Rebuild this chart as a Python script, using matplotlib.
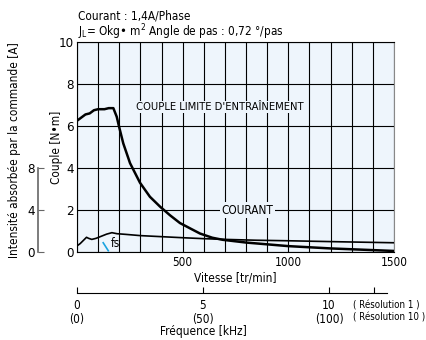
import matplotlib.pyplot as plt
import numpy as np

plt.rcParams['font.family'] = ['DejaVu Sans']
plt.rcParams['font.stretch'] = 'condensed'
plt.rcParams['font.size'] = 8.5

# couple limite d'entraînement [N·m] en fonction de la vitesse [tr/min]
vit_couple = [0, 20, 40, 60, 80, 100, 130, 150, 172, 188, 199, 219, 251, 298,
              345, 393, 440, 487, 540, 582, 640, 690, 800, 1000, 1200, 1400, 1500]
couple = [6.25, 6.4, 6.55, 6.6, 6.75, 6.8, 6.8, 6.85, 6.85, 6.44, 5.97, 5.17, 4.23,
          3.3, 2.63, 2.16, 1.75, 1.38, 1.1, 0.88, 0.68, 0.58, 0.45, 0.28, 0.17, 0.09, 0.05]

# courant absorbé [A]
vit_courant = [0, 15, 30, 45, 55, 70, 90, 110, 140, 165, 190, 230, 300, 400, 500,
               600, 700, 850, 1000, 1250, 1500]
courant = [0.58, 0.8, 1.1, 1.4, 1.3, 1.2, 1.3, 1.46, 1.7, 1.84, 1.74, 1.68, 1.56,
           1.46, 1.36, 1.27, 1.2, 1.12, 1.07, 0.97, 0.88]

freq_ticks = [0, 5, 10]
freq_labels = ['0\n(0)', '5\n(50)', '10\n(100)']

fond = '#eef5fc'
fig = plt.figure(figsize=(4.26, 3.40), dpi=100)
ax = fig.add_axes([77 / 426, 1 - 252 / 340, 317 / 426, 210 / 340])
ax.set_facecolor(fond)
ax.set_xlim(0, 1500)
ax.set_ylim(0, 10)
ax.set_xticks(np.arange(0, 1501, 100), minor=True)
ax.set_xticks([500, 1000, 1500])
ax.set_yticks(np.arange(0, 11, 2))
ax.grid(True, which='both', color='black', lw=0.8)
ax.tick_params(which='both', length=0, pad=3)
ax.tick_params(axis='y', labelsize=9.5, pad=2)
for s in ax.spines.values():
    s.set_linewidth(0.8)
ax.spines['right'].set_color('#888888')

ax.plot(vit_couple, couple, color='black', lw=1.8, zorder=3)

ax.text(675, 6.9, "COUPLE LIMITE D'ENTRAÎNEMENT", ha='center', va='center',
        fontsize=8, bbox=dict(fc=fond, ec='none', pad=1), zorder=4)
ax.text(807, 2.0, "COURANT", ha='center', va='center',
        bbox=dict(fc=fond, ec='none', pad=1), zorder=4)
ax.plot([124, 148], [0.44, 0.06], color='#1aa3e0', lw=1.2, zorder=4)
ax.text(158, 0.42, 'fs', ha='left', va='center', zorder=4)

ax.set_xlabel('Vitesse [tr/min]', labelpad=2)
ax.set_ylabel('Couple [N•m]')
ax.yaxis.set_label_coords(-14 / 317, 0.5)

# axe du courant
ax2 = ax.twinx()
ax2.set_ylim(0, 20)
ax2.plot(vit_courant, courant, color='black', lw=1.2, zorder=3)
for k in ['top', 'right', 'bottom']:
    ax2.spines[k].set_visible(False)
ax2.spines['left'].set_visible(True)
ax2.spines['left'].set_position(('axes', -39 / 317))
ax2.spines['left'].set_bounds(0, 8)
ax2.spines['left'].set_color('#666666')
ax2.spines['left'].set_linewidth(1.2)
ax2.yaxis.set_ticks_position('left')
ax2.yaxis.set_label_position('left')
ax2.set_yticks([0, 4, 8])
ax2.tick_params(axis='y', direction='in', length=4, color='#666666', pad=2, labelsize=9.5)

fig.text(15 / 426, 1 - 150 / 340, 'Intensité absorbée par la commande [A]',
         rotation=90, ha='center', va='center')

fig.text(78 / 426, 1 - 16 / 340, 'Courant : 1,4A/Phase', ha='left', va='center')
fig.text(78 / 426, 1 - 32 / 340,
         r'J$_\mathregular{L}$= Okg• m$^\mathregular{2}$ Angle de pas : 0,72 °/pas',
         ha='left', va='center')

# axe de fréquence
ax3 = fig.add_axes([77 / 426, 1 - 293 / 340, 317 / 426, 0.0001])
ax3.set_xlim(0, 12.58)
ax3.set_ylim(0, 1)
ax3.patch.set_visible(False)
for k in ['top', 'right', 'left']:
    ax3.spines[k].set_visible(False)
ax3.spines['bottom'].set_bounds(0, 12.3)
ax3.spines['bottom'].set_linewidth(0.8)
ax3.set_yticks([])
ax3.set_xticks(freq_ticks + [11.8])
ax3.set_xticklabels(freq_labels + [''], linespacing=1.15)
ax3.tick_params(axis='x', direction='in', length=4, pad=4)
fig.text(353 / 426, 1 - 306 / 340, '( Résolution 1 )', ha='left', va='center', fontsize=7)
fig.text(353 / 426, 1 - 318 / 340, '( Résolution 10 )', ha='left', va='center', fontsize=7)
fig.text(203 / 426, 1 - 331 / 340, 'Fréquence [kHz]', ha='center', va='center')

fig.savefig('out.png', dpi=100)
